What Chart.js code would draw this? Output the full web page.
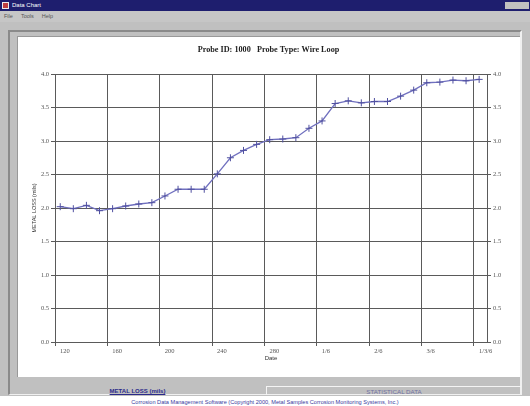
<!DOCTYPE html>
<html>
<head>
<meta charset="utf-8">
<script src="https://cdn.jsdelivr.net/npm/chart.js@4"></script>
<style>
    body { margin: 0; width: 530px; height: 406px; overflow: hidden; background: #fff; position: relative; font-family: "Liberation Sans", Arial, sans-serif; }
    .abs { position: absolute; }
    #titlebar { left: 0; top: 0; width: 530px; height: 11px; background: #1e1e6e; color: #fff; font-size: 6px; line-height: 11px; }
    #titlebar .icon { left: 2px; top: 2px; width: 7px; height: 7px; background: #c04040; border: 1px solid #eee; box-sizing: border-box; }
    #titlebar .btns { right: 1px; top: 2px; width: 24px; height: 7px; background: #c0c0c0; }
    #menubar { left: 0; top: 11px; width: 530px; height: 11px; background: #c6c6c6; color: #555; font-size: 5.5px; line-height: 11px; }
    #frame { left: 0; top: 22px; width: 530px; height: 374px; background: #c0c0c0; }
    #bevel { left: 8px; top: 30px; width: 514px; height: 365px; border-top: 2px solid #8a8a8a; border-left: 2px solid #8a8a8a; border-right: 2px solid #f0f0f0; border-bottom: 1px solid #f0f0f0; box-sizing: border-box; }
    #plot { left: 17px; top: 36px; width: 503px; height: 341px; background: #fff; border-top: 1px solid #999; border-left: 1px solid #999; box-sizing: border-box; }
    #tab1 { left: 10px; top: 378px; width: 255px; height: 15px; color: #2a2a8a; font-size: 6px; font-weight: bold; text-align: center; line-height: 27px; text-decoration: underline; }
    #tab2 { left: 266px; top: 386px; width: 254px; height: 8px; border-top: 1px solid #f4f4f4; border-left: 1px solid #f4f4f4; color: #7070a0; font-size: 6.2px; text-align: center; line-height: 10px; }
    #footer { left: 0; top: 398px; width: 530px; text-align: center; color: #3a3aa0; font-size: 5.6px; line-height: 8px; }
    #myChart { left: 0; top: 0; }
</style>
</head>
<body>
<div class="abs" id="titlebar"><div class="abs icon"></div><span style="margin-left:12px">Data Chart</span><div class="abs btns"></div></div>
<div class="abs" id="menubar"><span style="margin-left:4px">File</span><span style="margin-left:8px">Tools</span><span style="margin-left:8px">Help</span></div>
<div class="abs" id="frame"></div>
<div class="abs" id="bevel"></div>
<div class="abs" id="plot"></div>
<div class="abs" id="tab1">METAL LOSS (mils)</div>
<div class="abs" id="tab2">STATISTICAL DATA</div>
<div class="abs" id="footer">Corrosion Data Management Software (Copyright 2000, Metal Samples Corrosion Monitoring Systems, Inc.)</div>
<canvas class="abs" id="myChart" width="530" height="406"></canvas>
<script>
const dateLabels = ['120', '160', '200', '240', '280', '1/6', '2/6', '3/6', '1/3/6']
const sampleX = [0.4, 1.4, 2.4, 3.4, 4.4, 5.4, 6.4, 7.4, 8.4, 9.4, 10.4, 11.4, 12.4, 13.4, 14.4, 15.4, 16.4,
    17.4, 18.4, 19.4, 20.4, 21.4, 22.4, 23.4, 24.4, 25.4, 26.4, 27.4, 28.4, 29.4, 30.4, 31.4, 32.4]
const metalLoss = [2.02, 1.99, 2.04, 1.96, 1.99, 2.03, 2.06, 2.08, 2.18, 2.28, 2.28, 2.28, 2.51, 2.75, 2.86, 2.95, 3.02,
    3.03, 3.05, 3.19, 3.30, 3.56, 3.60, 3.57, 3.59, 3.59, 3.67, 3.76, 3.87, 3.88, 3.91, 3.90, 3.92]
const yTicks = [0, 0.5, 1, 1.5, 2, 2.5, 3, 3.5, 4]

const ctx = document.getElementById('myChart');
const gridColor = '#5a5a5a'
const tickFont = { family: 'Liberation Serif', size: 6.5 }

const points = []
for (let i = 0; i < sampleX.length; i++) {
    points.push({ x: sampleX[i], y: metalLoss[i] })
}

const yAxis = (position, width) => ({
    position: position,
    min: yTicks[0],
    max: yTicks[yTicks.length - 1],
    afterFit: (s) => { s.width = width },
    afterBuildTicks: (s) => { s.ticks = yTicks.map(v => ({ value: v })) },
    grid: { color: gridColor, tickLength: 4, drawOnChartArea: position === 'left' },
    border: { color: gridColor },
    ticks: { color: '#555', font: tickFont, padding: 2, callback: (v) => v.toFixed(1) }
})

new Chart(ctx, {
    type: 'line',
    data: {
        datasets: [{
            data: points,
            borderColor: '#7070bf',
            borderWidth: 1.3,
            pointStyle: 'cross',
            pointRadius: 3.5,
            pointBorderColor: '#5050a0',
            pointBorderWidth: 1,
            tension: 0,
            fill: false
        }]
    },
    options: {
        responsive: false,
        animation: false,
        layout: { padding: { left: 17, right: 10, top: 36, bottom: 29 } },
        plugins: {
            legend: { display: false },
            tooltip: { enabled: false },
            title: {
                display: true,
                text: 'Probe ID: 1000   Probe Type: Wire Loop',
                color: '#222',
                font: { family: 'Liberation Serif', size: 8.2, weight: 'bold' },
                padding: { top: 9, bottom: 19.2 }
            }
        },
        scales: {
            x: {
                type: 'linear',
                min: 0,
                max: 33,
                afterFit: (s) => { s.height = 35 },
                grid: { color: gridColor, tickLength: 4 },
                border: { color: gridColor },
                ticks: {
                    stepSize: 4,
                    includeBounds: false,
                    autoSkip: false,
                    maxRotation: 0,
                    align: 'start',
                    labelOffset: 5,
                    padding: 1,
                    color: '#555',
                    font: tickFont,
                    callback: (v) => dateLabels[v / 4]
                },
                title: { display: true, text: 'Date', color: '#333', font: { family: 'Liberation Sans', size: 6 }, padding: { top: 0, bottom: 15.4 } }
            },
            y: Object.assign(yAxis('left', 38), {
                title: { display: true, text: 'METAL LOSS (mils)', color: '#333', font: { family: 'Liberation Sans', size: 5.5 }, padding: { top: 13.7, bottom: 0 } }
            }),
            y2: yAxis('right', 33)
        }
    }
});
</script>
</body>
</html>
